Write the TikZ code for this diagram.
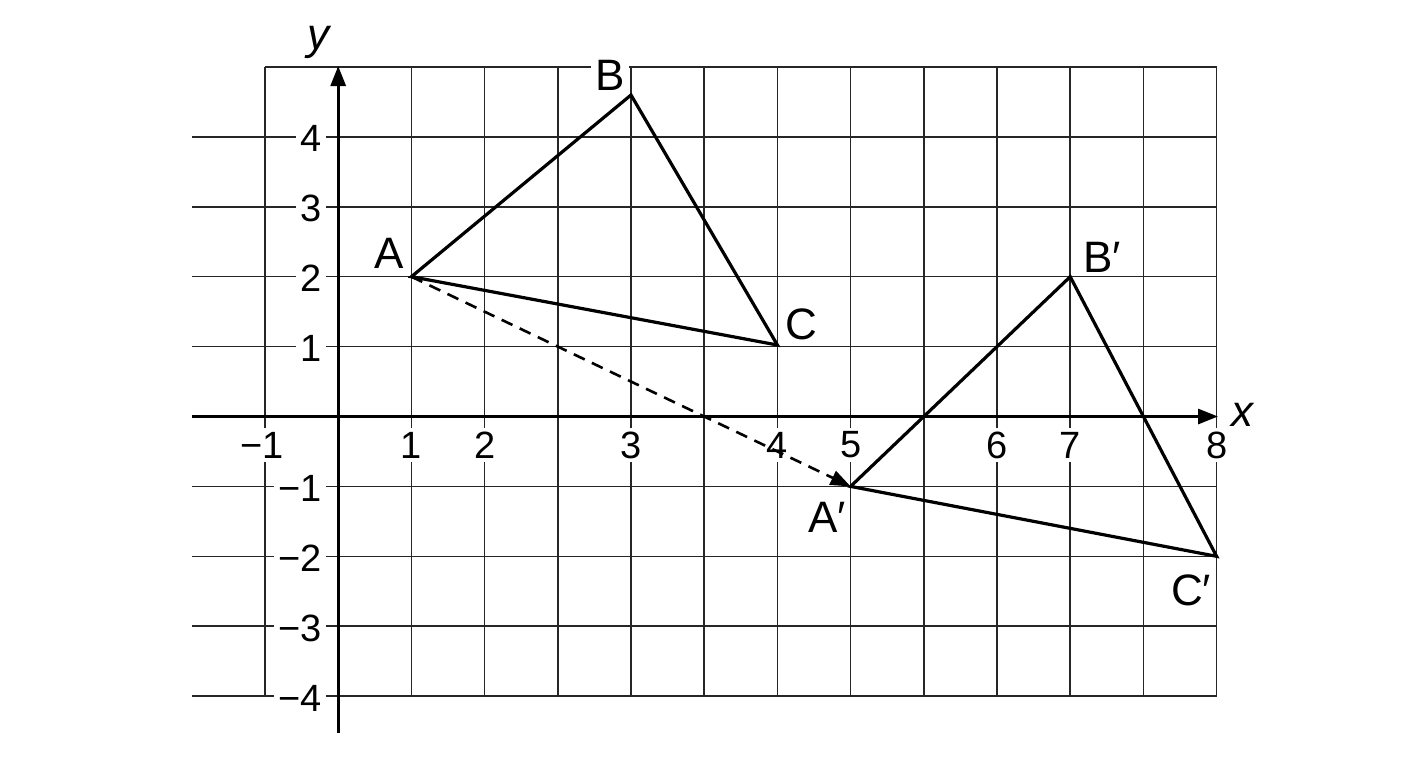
\documentclass[tikz,border=0pt]{standalone}
\usepackage{fontspec}
\setmainfont{Liberation Sans}
\usetikzlibrary{arrows.meta}
\begin{document}
\begin{tikzpicture}[x=0.5pt,y=-0.5pt,
  gridline/.style={line width=0.75pt,black!85},
  axisline/.style={line width=1.5pt,-{Triangle[length=10pt,width=7.5pt]}},
  tri/.style={line width=1.6pt,line join=miter},
  ticklab/.style={font=\fontsize{19}{22}\selectfont,fill=white,inner sep=2pt},
  ptlab/.style={font=\fontsize{22}{24}\selectfont,inner sep=0pt},
  axlab/.style={font=\fontsize{22}{24}\selectfont\itshape,inner sep=0pt}]
\useasboundingbox (0,0) rectangle (1408,768);
\fill[white] (0,0) rectangle (1408,768);
% grid
\foreach \k in {0,...,13}
  \draw[gridline] ({265+73.2*\k},67) -- ({265+73.2*\k},697);
\draw[gridline] (265,67) -- (1217,67);
\foreach \k in {1,...,9}
  \draw[gridline] (192,{67+69.9*\k}) -- (1217,{67+69.9*\k});
% tick labels
\foreach \v/\k in {4/1,3/2,2/3,1/4,−1/6,−2/7,−3/8,−4/9}
  \node[ticklab,anchor=east] (yl\k) at (326,{67+69.9*\k+2}) {\v};
\foreach \v/\px [count=\i] in {−1/262,1/411.4,2/484.6,3/631,4/777.4,5/850.6,6/997,7/1070.2,8/1216.6}
  \node[ticklab] (xl\i) at (\px,445) {\v};
% axes
\coordinate (xs) at (192,416.5);
\coordinate (xe) at (1218,416.5);
\coordinate (ys) at (338.2,733);
\coordinate (ye) at (338.2,66);
\draw[axisline] (xs) -- (xe);
\draw[axisline] (ys) -- (ye);
\node[axlab] (xlab) at (1242,415) {x};
\node[axlab] (ylab) at (318,42) {y};
% points
\coordinate (A) at (411.4,276.7);
\coordinate (B) at (631,95);
\coordinate (C) at (777.4,345);
\coordinate (Ap) at (850.6,486.4);
\coordinate (Bp) at (1070.2,276.7);
\coordinate (Cp) at (1216.6,556.3);
\draw[tri] (A) -- (B) -- (C) -- cycle;
\draw[tri] (Ap) -- (Bp) -- (Cp) -- cycle;
\draw[line width=1.3pt,dash pattern=on 6pt off 4pt,-{Triangle[length=10pt,width=7.5pt]}] (A) -- (Ap);
% point labels
\node[ptlab] (lA) at (389,253) {A};
\node[ptlab,fill=white,inner sep=2pt] (lB) at (610,75) {B};
\node[ptlab] (lC) at (801,324) {C};
\node[ptlab] (lAp) at (827,517) {A′};
\node[ptlab] (lBp) at (1102,257) {B′};
\node[ptlab] (lCp) at (1191,590) {C′};
\end{tikzpicture}
\end{document}
